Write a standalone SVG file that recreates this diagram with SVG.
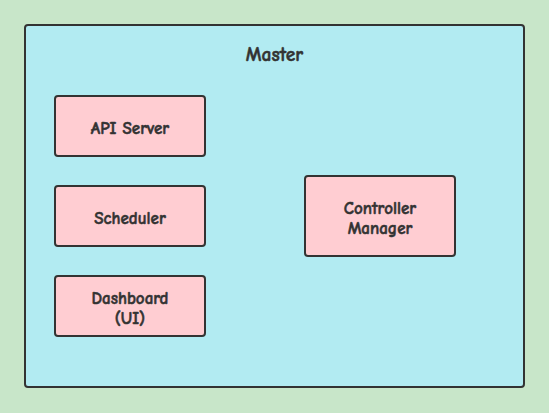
<svg xmlns="http://www.w3.org/2000/svg" width="549" height="413" viewBox="0 0 549 413">
<style>
.n rect{fill:#FFCDD2;stroke:#333;stroke-width:2}
text{font-family:"Comic Sans MS","Comic Neue","Liberation Sans",sans-serif;font-weight:bold;fill:#333;stroke:#333;stroke-width:0.5;text-anchor:middle;font-size:17px}
</style>
<rect x="0" y="0" width="549" height="413" fill="#C8E6C9"/>
<g id="master">
<rect x="25" y="25" width="499" height="362" rx="3" fill="#B2EBF2" stroke="#333" stroke-width="2"/>
<text x="274.5" y="61" style="font-size:19.5px">Master</text>
</g>
<g id="connectors"></g>
<g id="api" class="n"><rect x="55" y="96" width="150" height="60" rx="3"/><text x="130" y="134">API Server</text></g>
<g id="scheduler" class="n"><rect x="55" y="186" width="150" height="60" rx="3"/><text x="130" y="224">Scheduler</text></g>
<g id="dashboard" class="n"><rect x="55" y="276" width="150" height="60" rx="3"/><text x="130" y="304">Dashboard</text><text x="130" y="324">(UI)</text></g>
<g id="controller" class="n"><rect x="305" y="176" width="150" height="80" rx="3"/><text x="380" y="214">Controller</text><text x="380" y="234">Manager</text></g>
</svg>
